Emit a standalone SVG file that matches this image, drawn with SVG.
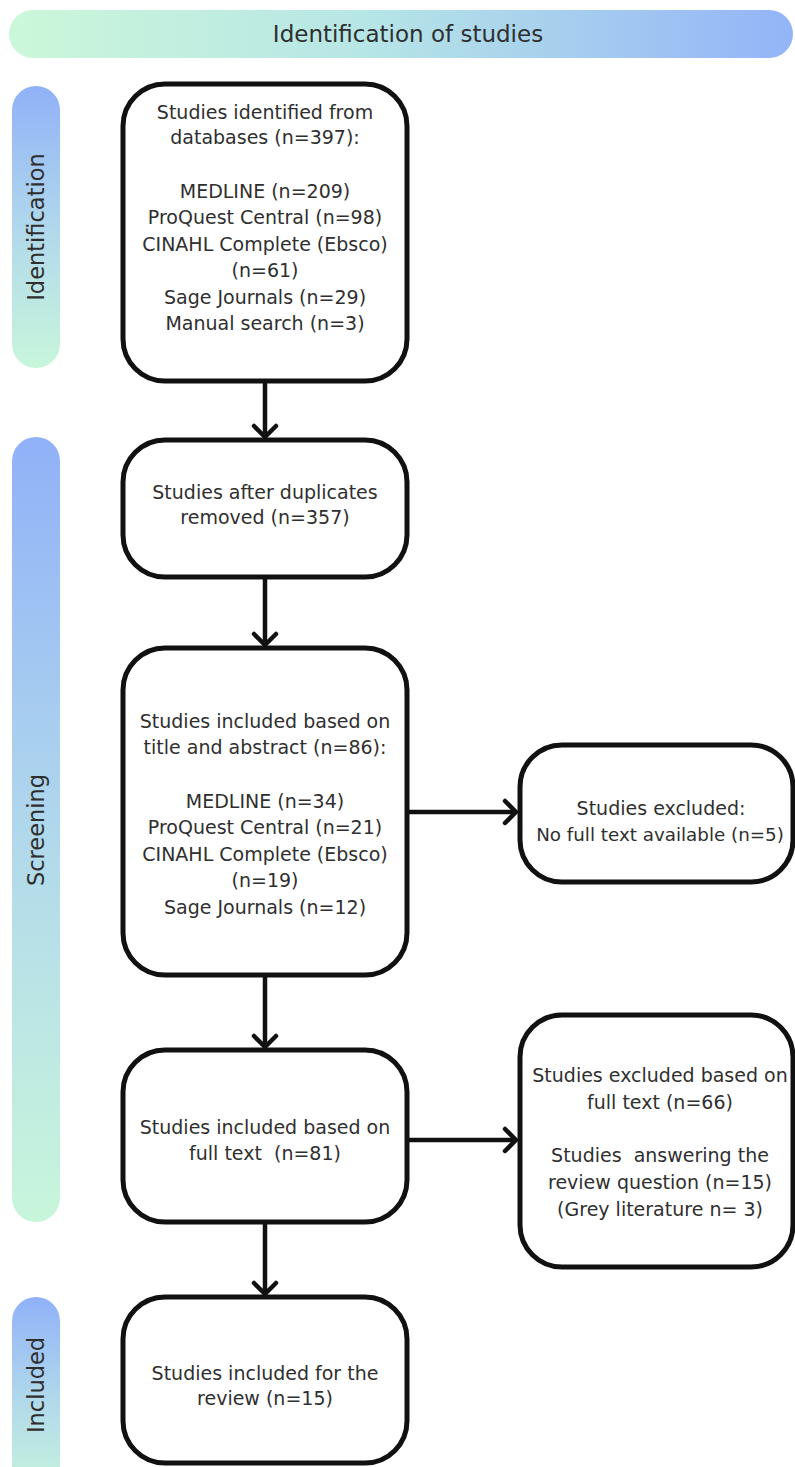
<svg xmlns="http://www.w3.org/2000/svg" width="795" height="1467" viewBox="0 0 795 1467">
  <defs>
    <linearGradient id="gBanner" x1="0" y1="0" x2="1" y2="0">
      <stop offset="0" stop-color="#cbf7d9"/>
      <stop offset="0.45" stop-color="#b7e6e6"/>
      <stop offset="1" stop-color="#93b4f8"/>
    </linearGradient>
    <linearGradient id="gSide" x1="0" y1="0" x2="0" y2="1">
      <stop offset="0" stop-color="#90b1f8"/>
      <stop offset="0.5" stop-color="#b0d8ec"/>
      <stop offset="1" stop-color="#c8f6db"/>
    </linearGradient>
    <marker id="arr" viewBox="-14 -14 16 28" refX="0" refY="0" markerWidth="16" markerHeight="28" markerUnits="userSpaceOnUse" orient="auto">
      <path d="M-11,-11 L0,0 L-11,11" fill="none" stroke="#111" stroke-width="4.5" stroke-linecap="round" stroke-linejoin="round"/>
    </marker>
    <style>
      .box { fill: #ffffff; stroke: #111111; stroke-width: 5; }
      .t { font-family: "DejaVu Sans", "Noto Sans", sans-serif; font-size: 19px; fill: #2f2f2f; text-anchor: middle; }
      .side { font-family: "DejaVu Sans", "Noto Sans", sans-serif; font-size: 22.5px; fill: #2f2f2f; text-anchor: middle; }
      .ban { font-family: "DejaVu Sans", "Noto Sans", sans-serif; font-size: 23px; fill: #2f2f2f; text-anchor: middle; }
      .conn { stroke: #111111; stroke-width: 4.5; fill: none; }
    </style>
  </defs>
  <rect width="795" height="1467" fill="#ffffff"/>

  <g id="banner">
    <rect x="9" y="10" width="784" height="48" rx="24" fill="url(#gBanner)"/>
    <text class="ban" x="408" y="42">Identification of studies</text>
  </g>

  <g id="phase-identification">
    <rect x="12" y="86" width="48" height="282" rx="24" fill="url(#gSide)"/>
    <text class="side" transform="translate(44,227) rotate(-90)" x="0" y="0">Identification</text>
  </g>
  <g id="phase-screening">
    <rect x="12" y="437" width="48" height="785" rx="24" fill="url(#gSide)"/>
    <text class="side" transform="translate(44,830) rotate(-90)" x="0" y="0">Screening</text>
  </g>
  <g id="phase-included">
    <rect x="12" y="1297" width="48" height="200" rx="24" fill="url(#gSide)"/>
    <text class="side" transform="translate(44,1385) rotate(-90)" x="0" y="0">Included</text>
  </g>

  <g id="connectors">
    <line class="conn" x1="265" y1="382" x2="265" y2="437" marker-end="url(#arr)"/>
    <line class="conn" x1="265" y1="579" x2="265" y2="645" marker-end="url(#arr)"/>
    <line class="conn" x1="409" y1="812" x2="516" y2="812" marker-end="url(#arr)"/>
    <line class="conn" x1="265" y1="977" x2="265" y2="1047" marker-end="url(#arr)"/>
    <line class="conn" x1="409" y1="1140" x2="516" y2="1140" marker-end="url(#arr)"/>
    <line class="conn" x1="265" y1="1224" x2="265" y2="1294" marker-end="url(#arr)"/>
  </g>

  <g id="node-identified">
    <rect class="box" x="123" y="84" width="284" height="297" rx="42"/>
    <text class="t" x="265" y="119">Studies identified from</text>
    <text class="t" x="265" y="144">databases (n=397):</text>
    <text class="t" x="265" y="198">MEDLINE (n=209)</text>
    <text class="t" x="265" y="224">ProQuest Central (n=98)</text>
    <text class="t" x="265" y="251">CINAHL Complete (Ebsco)</text>
    <text class="t" x="265" y="277">(n=61)</text>
    <text class="t" x="265" y="304">Sage Journals (n=29)</text>
    <text class="t" x="265" y="330">Manual search (n=3)</text>
  </g>

  <g id="node-duplicates">
    <rect class="box" x="123" y="440" width="284" height="137" rx="42"/>
    <text class="t" x="265" y="499">Studies after duplicates</text>
    <text class="t" x="265" y="524">removed (n=357)</text>
  </g>

  <g id="node-title-abstract">
    <rect class="box" x="123" y="648" width="284" height="327" rx="42"/>
    <text class="t" x="265" y="728">Studies included based on</text>
    <text class="t" x="265" y="754">title and abstract (n=86):</text>
    <text class="t" x="265" y="808">MEDLINE (n=34)</text>
    <text class="t" x="265" y="834">ProQuest Central (n=21)</text>
    <text class="t" x="265" y="861">CINAHL Complete (Ebsco)</text>
    <text class="t" x="265" y="887">(n=19)</text>
    <text class="t" x="265" y="914">Sage Journals (n=12)</text>
  </g>

  <g id="node-excluded-no-text">
    <rect class="box" x="520" y="745" width="273" height="137" rx="42"/>
    <text class="t" x="661" y="815">Studies excluded:</text>
    <text class="t" x="660" y="841" style="font-size:18.3px">No full text available (n=5)</text>
  </g>

  <g id="node-full-text">
    <rect class="box" x="123" y="1050" width="284" height="172" rx="42"/>
    <text class="t" x="265" y="1134">Studies included based on</text>
    <text class="t" x="265" y="1160" xml:space="preserve">full text  (n=81)</text>
  </g>

  <g id="node-excluded-full-text">
    <rect class="box" x="520" y="1015" width="273" height="252" rx="42"/>
    <text class="t" x="660" y="1082">Studies excluded based on</text>
    <text class="t" x="660" y="1109">full text (n=66)</text>
    <text class="t" x="660" y="1162" xml:space="preserve">Studies  answering the</text>
    <text class="t" x="660" y="1189">review question (n=15)</text>
    <text class="t" x="660" y="1216">(Grey literature n= 3)</text>
  </g>

  <g id="node-included">
    <rect class="box" x="123" y="1297" width="284" height="166" rx="42"/>
    <text class="t" x="265" y="1380">Studies included for the</text>
    <text class="t" x="265" y="1405">review (n=15)</text>
  </g>
</svg>
